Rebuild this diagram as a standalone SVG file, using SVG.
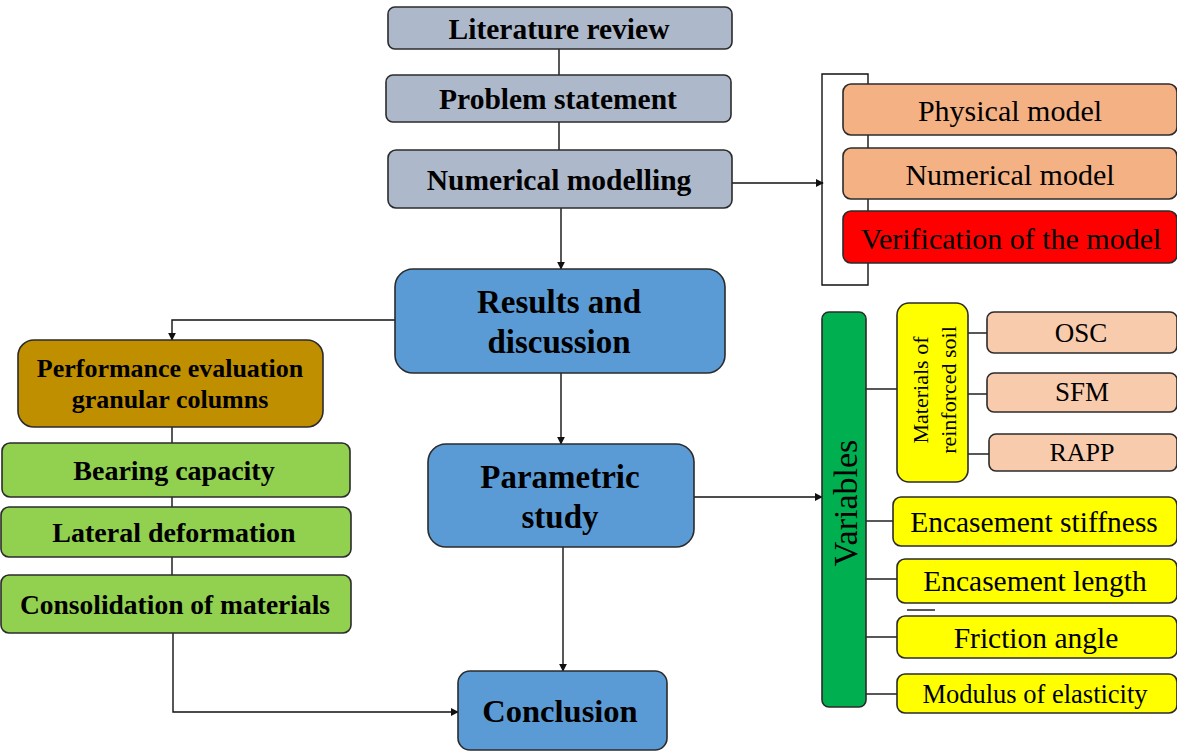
<svg xmlns="http://www.w3.org/2000/svg" width="1177" height="751" viewBox="0 0 1177 751">
  <defs>
    <style>
      .box { stroke: #2b2b2b; stroke-width: 1.6; }
      .gray { fill: #ADB9CA; }
      .blue { fill: #5B9BD5; }
      .peach { fill: #F4B183; }
      .red { fill: #FF0000; }
      .gold { fill: #BF8F00; }
      .lime { fill: #92D050; }
      .green { fill: #00B050; }
      .yellow { fill: #FFFF00; }
      .salmon { fill: #F8CBAD; }
      text { font-family: "Liberation Serif", "Times New Roman", serif; fill: #000; text-anchor: middle; dominant-baseline: central; }
      .b { font-weight: bold; }
      .line { fill: none; stroke: #111; stroke-width: 1.4; }
    </style>
    <marker id="arrow" viewBox="0 0 10 10" refX="9" refY="5" markerWidth="8" markerHeight="8" markerUnits="userSpaceOnUse" orient="auto">
      <path d="M0,0 L10,5 L0,10 z" fill="#111"/>
    </marker>
  </defs>

  <!-- connectors -->
  <g id="connectors">
    <line class="line" x1="559" y1="49" x2="559" y2="75"/>
    <line class="line" x1="559" y1="122" x2="559" y2="150"/>
    <line class="line" x1="561" y1="208" x2="561" y2="269" marker-end="url(#arrow)"/>
    <line class="line" x1="732" y1="183" x2="823" y2="183" marker-end="url(#arrow)"/>
    <!-- bracket around model stages -->
    <path class="line" d="M868,74 L822,74 L822,285 L868,285 Z"/>
    <line class="line" x1="561" y1="373" x2="561" y2="444" marker-end="url(#arrow)"/>
    <polyline class="line" points="395,320 172,320 172,340" marker-end="url(#arrow)"/>
    <line class="line" x1="172" y1="427" x2="172" y2="443"/>
    <line class="line" x1="172" y1="497" x2="172" y2="507"/>
    <line class="line" x1="172" y1="557" x2="172" y2="575"/>
    <polyline class="line" points="173,633 173,712 458,712" marker-end="url(#arrow)"/>
    <line class="line" x1="563" y1="547" x2="563" y2="671" marker-end="url(#arrow)"/>
    <line class="line" x1="694" y1="497" x2="822" y2="497" marker-end="url(#arrow)"/>
    <line class="line" x1="866" y1="389" x2="897" y2="389"/>
    <line class="line" x1="968" y1="333" x2="987" y2="333"/>
    <line class="line" x1="968" y1="394" x2="987" y2="394"/>
    <line class="line" x1="968" y1="454" x2="989" y2="454"/>
    <line class="line" x1="866" y1="521" x2="893" y2="521"/>
    <line class="line" x1="866" y1="579" x2="897" y2="579"/>
    <line class="line" x1="907" y1="610" x2="935" y2="610"/>
    <line class="line" x1="866" y1="637" x2="897" y2="637"/>
    <line class="line" x1="866" y1="694" x2="897" y2="694"/>
  </g>

  <g id="literature-review">
    <rect class="box gray" x="388" y="7" width="344" height="42" rx="7"/>
    <text class="b" x="559" y="29" font-size="29.5">Literature review</text>
  </g>
  <g id="problem-statement">
    <rect class="box gray" x="386" y="75" width="345" height="47" rx="7"/>
    <text class="b" x="558" y="99" font-size="29.5">Problem statement</text>
  </g>
  <g id="numerical-modelling">
    <rect class="box gray" x="388" y="150" width="344" height="58" rx="8"/>
    <text class="b" x="559" y="180" font-size="29.5">Numerical modelling</text>
  </g>

  <g id="physical-model">
    <rect class="box peach" x="843" y="84" width="334" height="51" rx="8"/>
    <text x="1010" y="110" font-size="30">Physical model</text>
  </g>
  <g id="numerical-model">
    <rect class="box peach" x="843" y="148" width="334" height="51" rx="8"/>
    <text x="1010" y="174" font-size="30">Numerical model</text>
  </g>
  <g id="verification">
    <rect class="box red" x="843" y="211" width="334" height="52" rx="8"/>
    <text x="1011" y="238" font-size="30">Verification of the model</text>
  </g>

  <g id="results-discussion">
    <rect class="box blue" x="395" y="269" width="330" height="104" rx="18"/>
    <text class="b" x="559" y="302" font-size="33">Results and</text>
    <text class="b" x="559" y="342" font-size="33">discussion</text>
  </g>
  <g id="parametric-study">
    <rect class="box blue" x="428" y="444" width="266" height="103" rx="18"/>
    <text class="b" x="560" y="477" font-size="33">Parametric</text>
    <text class="b" x="560" y="517" font-size="33">study</text>
  </g>
  <g id="conclusion">
    <rect class="box blue" x="458" y="671" width="209" height="79" rx="12"/>
    <text class="b" x="560" y="711" font-size="32.5">Conclusion</text>
  </g>

  <g id="performance-evaluation">
    <rect class="box gold" x="18" y="340" width="305" height="87" rx="16"/>
    <text class="b" x="170" y="368" font-size="26">Performance evaluation</text>
    <text class="b" x="170" y="399" font-size="26">granular columns</text>
  </g>
  <g id="bearing-capacity">
    <rect class="box lime" x="2" y="443" width="348" height="54" rx="8"/>
    <text class="b" x="174" y="470" font-size="28">Bearing capacity</text>
  </g>
  <g id="lateral-deformation">
    <rect class="box lime" x="1" y="507" width="350" height="50" rx="8"/>
    <text class="b" x="174" y="532" font-size="28">Lateral deformation</text>
  </g>
  <g id="consolidation">
    <rect class="box lime" x="1" y="575" width="350" height="58" rx="8"/>
    <text class="b" x="175" y="604" font-size="27.5">Consolidation of materials</text>
  </g>

  <g id="variables">
    <rect class="box green" x="822" y="312" width="44" height="395" rx="7"/>
    <text transform="translate(845,503) rotate(-90)" x="0" y="0" font-size="34">Variables</text>
  </g>
  <g id="materials">
    <rect class="box yellow" x="897" y="303" width="71" height="179" rx="12"/>
    <text transform="translate(934,390) rotate(-90)" x="0" y="-14" font-size="22">Materials of</text>
    <text transform="translate(934,390) rotate(-90)" x="0" y="14" font-size="22">reinforced soil</text>
  </g>
  <g id="osc">
    <rect class="box salmon" x="987" y="312" width="190" height="41" rx="7"/>
    <text x="1081" y="333" font-size="27">OSC</text>
  </g>
  <g id="sfm">
    <rect class="box salmon" x="987" y="373" width="190" height="39" rx="7"/>
    <text x="1082" y="392" font-size="27">SFM</text>
  </g>
  <g id="rapp">
    <rect class="box salmon" x="989" y="434" width="188" height="37" rx="7"/>
    <text x="1082" y="452" font-size="26">RAPP</text>
  </g>
  <g id="encasement-stiffness">
    <rect class="box yellow" x="893" y="497" width="284" height="49" rx="8"/>
    <text x="1034" y="522" font-size="29.5">Encasement stiffness</text>
  </g>
  <g id="encasement-length">
    <rect class="box yellow" x="897" y="559" width="280" height="44" rx="8"/>
    <text x="1035" y="581" font-size="29.5">Encasement length</text>
  </g>
  <g id="friction-angle">
    <rect class="box yellow" x="897" y="616" width="280" height="42" rx="8"/>
    <text x="1036" y="638" font-size="29.5">Friction angle</text>
  </g>
  <g id="modulus-elasticity">
    <rect class="box yellow" x="897" y="674" width="280" height="39" rx="8"/>
    <text x="1035" y="694" font-size="26.5">Modulus of elasticity</text>
  </g>
</svg>
